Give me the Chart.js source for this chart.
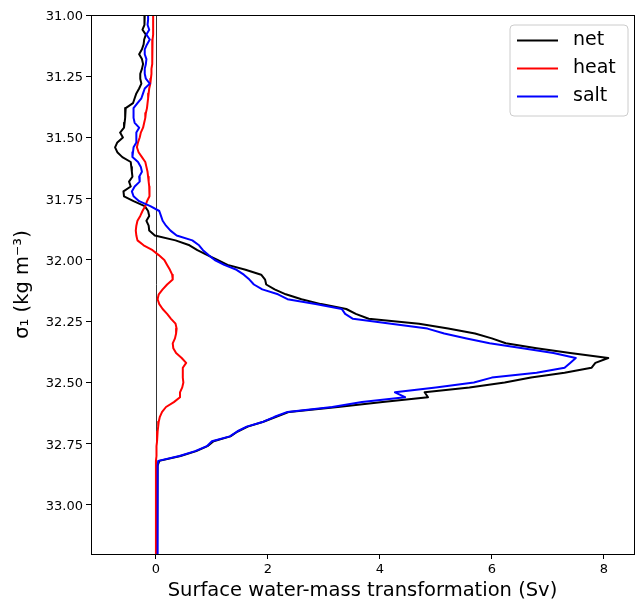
<!DOCTYPE html>
<html><head><meta charset="utf-8">
<script src="https://cdn.jsdelivr.net/npm/chart.js@4.4.1/dist/chart.umd.min.js"></script>
<style>html,body{margin:0;padding:0;background:#fff}#wrap{width:643px;height:612px}</style>
</head><body><div id="wrap"><canvas id="c" width="643" height="612"></canvas></div>
<script>
const sigma = [31.00,31.02,31.04,31.06,31.08,31.10,31.12,31.14,31.16,31.18,
31.20,31.22,31.24,31.26,31.28,31.30,31.32,31.34,31.36,31.38,
31.40,31.42,31.44,31.46,31.48,31.50,31.52,31.54,31.56,31.58,
31.60,31.62,31.64,31.66,31.68,31.70,31.72,31.74,31.76,31.78,
31.80,31.82,31.84,31.86,31.88,31.90,31.92,31.94,31.96,31.98,
32.00,32.02,32.04,32.06,32.08,32.10,32.12,32.14,32.16,32.18,
32.20,32.22,32.24,32.26,32.28,32.30,32.32,32.34,32.36,32.38,
32.40,32.42,32.44,32.46,32.48,32.50,32.52,32.54,32.56,32.58,
32.60,32.62,32.64,32.66,32.68,32.70,32.72,32.74,32.76,32.78,
32.80,32.82,32.84,32.86,32.88,32.90,32.92,32.94,32.96,32.98,
33.00,33.02,33.04,33.06,33.08,33.10,33.12,33.14,33.16,33.18,33.20];

const net = [-0.20,-0.20,-0.21,-0.24,-0.18,-0.21,-0.22,-0.25,-0.30,-0.25,
-0.23,-0.25,-0.28,-0.28,-0.26,-0.30,-0.35,-0.38,-0.41,-0.54,
-0.55,-0.55,-0.56,-0.57,-0.64,-0.59,-0.69,-0.73,-0.69,-0.60,
-0.45,-0.44,-0.43,-0.42,-0.48,-0.45,-0.58,-0.57,-0.40,-0.20,
-0.14,-0.12,-0.17,-0.13,-0.12,-0.02,0.35,0.60,0.74,0.92,
1.10,1.28,1.60,1.88,1.95,1.97,2.12,2.32,2.60,2.95,
3.40,3.57,3.80,4.70,5.22,5.70,6.00,6.25,6.80,7.40,
8.08,7.85,7.78,7.30,6.70,6.23,5.60,4.80,4.86,4.05,
3.25,2.38,2.15,1.92,1.64,1.46,1.33,1.03,0.92,0.72,
0.44,0.06,0.03,0.02,0.02,0.02,0.02,0.02,0.02,0.02,
0.02,0.02,0.02,0.02,0.02,0.02,0.02,0.02,0.02,0.02,0.02];

const heat = [-0.05,-0.05,-0.05,-0.05,-0.05,-0.06,-0.06,-0.06,-0.07,-0.07,
-0.07,-0.08,-0.08,-0.09,-0.10,-0.12,-0.13,-0.14,-0.15,-0.16,
-0.18,-0.19,-0.21,-0.23,-0.27,-0.29,-0.32,-0.34,-0.31,-0.25,
-0.19,-0.17,-0.15,-0.14,-0.13,-0.12,-0.11,-0.12,-0.16,-0.19,
-0.24,-0.28,-0.33,-0.35,-0.36,-0.35,-0.33,-0.22,-0.06,0.05,
0.15,0.20,0.25,0.29,0.30,0.20,0.12,0.05,0.03,0.06,
0.12,0.20,0.27,0.35,0.37,0.36,0.34,0.30,0.31,0.36,
0.46,0.54,0.48,0.48,0.48,0.49,0.47,0.43,0.43,0.32,
0.18,0.11,0.07,0.05,0.04,0.03,0.02,0.02,0.01,0.01,
0.01,0.00,0.00,0.00,0.00,0.00,0.00,0.00,0.00,0.00,
0.00,0.00,0.00,0.00,0.00,0.00,0.00,0.00,0.00,0.00,0.00];

const salt = [-0.14,-0.14,-0.15,-0.12,-0.17,-0.11,-0.16,-0.20,-0.20,-0.17,
-0.18,-0.20,-0.20,-0.18,-0.11,-0.20,-0.23,-0.26,-0.33,-0.40,
-0.40,-0.40,-0.38,-0.30,-0.35,-0.35,-0.35,-0.40,-0.41,-0.42,
-0.32,-0.27,-0.25,-0.30,-0.29,-0.38,-0.43,-0.40,-0.30,-0.10,
0.06,0.09,0.12,0.18,0.26,0.37,0.65,0.77,0.84,0.94,
1.05,1.22,1.44,1.57,1.67,1.75,1.90,2.18,2.35,2.85,
3.32,3.38,3.52,4.20,4.85,5.15,5.55,5.96,6.55,7.10,
7.50,7.40,7.30,6.80,6.00,5.68,5.00,4.27,4.45,3.68,
3.15,2.35,2.12,1.92,1.62,1.45,1.32,1.00,0.91,0.70,
0.42,0.04,0.03,0.03,0.03,0.03,0.03,0.03,0.03,0.03,
0.03,0.03,0.03,0.03,0.03,0.03,0.03,0.03,0.03,0.03,0.03];

const seriesNames = ['net', 'heat', 'salt'];
const seriesColors = ['#000000', '#ff0000', '#0000ff'];
const xTicks = [0, 2, 4, 6, 8];
const yTicks = [31.00, 31.25, 31.50, 31.75, 32.00, 32.25, 32.50, 32.75, 33.00];
const xLabel = 'Surface water-mass transformation (Sv)';
const yLabel = 'σ₁ (kg m⁻³)';

const FONT = "'DejaVu Sans', sans-serif";
const seriesValues = [net, heat, salt];

const datasets = seriesValues.map((vals, i) => ({
  label: seriesNames[i],
  data: vals.map((v, k) => ({ x: v, y: sigma[k] })),
  borderColor: seriesColors[i],
  backgroundColor: seriesColors[i],
  borderWidth: 2,
  pointRadius: 0,
  tension: 0,
  fill: false,
  borderJoinStyle: 'round',
  order: 3 - i
}));

const decorPlugin = {
  id: 'decor',
  beforeDatasetsDraw(chart) {
    const { ctx, chartArea: a, scales: { x } } = chart;
    const px = Math.round(x.getPixelForValue(0)) + 0.5;
    ctx.save();
    ctx.strokeStyle = '#000';
    ctx.lineWidth = 0.8;
    ctx.beginPath();
    ctx.moveTo(px, a.top);
    ctx.lineTo(px, a.bottom);
    ctx.stroke();
    ctx.restore();
  },
  afterDraw(chart) {
    const { ctx, chartArea: a } = chart;
    ctx.save();
    ctx.strokeStyle = '#000';
    ctx.lineWidth = 1;
    ctx.strokeRect(Math.round(a.left) + 0.5, Math.round(a.top) + 0.5,
      Math.round(a.right - a.left), Math.round(a.bottom - a.top));
    // legend
    const lw = 118, lh = 91;
    const lx = a.right - 124, ly = a.top + 10;
    const r = 4;
    ctx.beginPath();
    ctx.moveTo(lx + r, ly);
    ctx.lineTo(lx + lw - r, ly);
    ctx.arcTo(lx + lw, ly, lx + lw, ly + r, r);
    ctx.lineTo(lx + lw, ly + lh - r);
    ctx.arcTo(lx + lw, ly + lh, lx + lw - r, ly + lh, r);
    ctx.lineTo(lx + r, ly + lh);
    ctx.arcTo(lx, ly + lh, lx, ly + lh - r, r);
    ctx.lineTo(lx, ly + r);
    ctx.arcTo(lx, ly, lx + r, ly, r);
    ctx.closePath();
    ctx.fillStyle = 'rgba(255,255,255,0.8)';
    ctx.fill();
    ctx.strokeStyle = '#cccccc';
    ctx.lineWidth = 1;
    ctx.stroke();
    ctx.font = '19px ' + FONT;
    ctx.textBaseline = 'middle';
    ctx.textAlign = 'left';
    chart.data.datasets.forEach((ds, i) => {
      const yy = ly + 15.5 + i * 28;
      ctx.strokeStyle = ds.borderColor;
      ctx.lineWidth = 2;
      ctx.beginPath();
      ctx.moveTo(lx + 7, yy);
      ctx.lineTo(lx + 48, yy);
      ctx.stroke();
      ctx.fillStyle = '#000';
      ctx.fillText(ds.label, lx + 63, yy);
    });
    ctx.restore();
  }
};

new Chart(document.getElementById('c'), {
  type: 'line',
  data: { datasets },
  plugins: [decorPlugin],
  options: {
    responsive: false,
    animation: false,
    devicePixelRatio: 1,
    layout: { padding: { left: 0, right: 9, top: 15, bottom: 0 } },
    plugins: { legend: { display: false }, tooltip: { enabled: false } },
    scales: {
      x: {
        type: 'linear',
        position: 'bottom',
        min: -1.16,
        max: 8.54,
        afterBuildTicks: s => { s.ticks = xTicks.map(v => ({ value: v })); },
        afterFit: s => { s.height = 58; },
        ticks: { font: { size: 13, family: FONT }, color: '#000', padding: 3, maxRotation: 0, autoSkip: false,
          callback: v => String(v) },
        grid: { drawOnChartArea: false, drawTicks: true, tickLength: 5, tickColor: '#000', tickWidth: 1 },
        border: { display: false },
        title: { display: true, text: xLabel, color: '#000', font: { size: 19.5, family: FONT },
          padding: { top: 0, bottom: 9 } }
      },
      y: {
        type: 'linear',
        position: 'left',
        reverse: true,
        min: 31.0,
        max: 33.2,
        afterBuildTicks: s => { s.ticks = yTicks.map(v => ({ value: v })); },
        afterFit: s => { s.width = 91; },
        ticks: { font: { size: 13, family: FONT }, color: '#000', padding: 3, autoSkip: false, labelOffset: 1.5,
          callback: v => Number(v).toFixed(2) },
        grid: { drawOnChartArea: false, drawTicks: true, tickLength: 5, tickColor: '#000', tickWidth: 1 },
        border: { display: false },
        title: { display: true, text: yLabel, color: '#000', font: { size: 19.5, family: FONT },
          padding: { top: 11, bottom: 0 } }
      }
    }
  }
});
</script>
</body></html>
